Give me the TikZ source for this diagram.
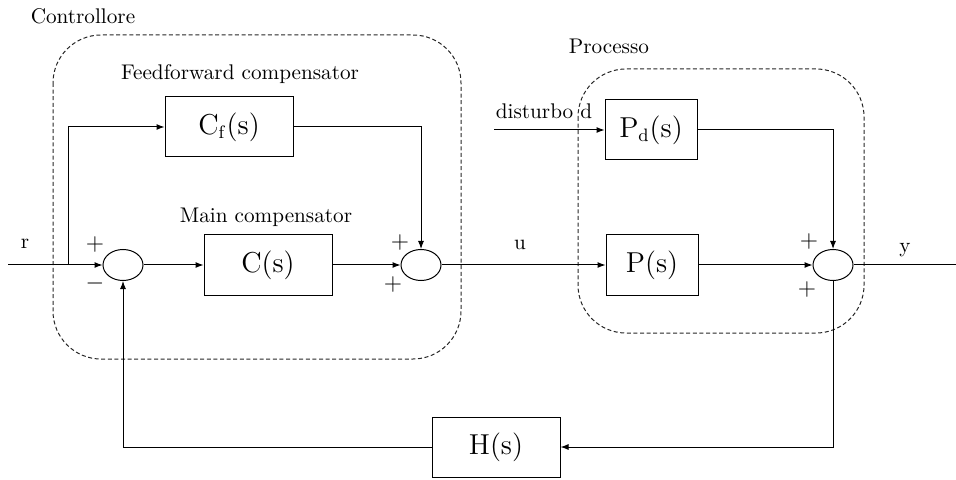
\documentclass[tikz,border=0pt]{standalone}
\usetikzlibrary{arrows.meta,shapes.geometric}
\newcommand{\Wide}{64pt}
\newcommand{\Narrow}{46pt}
\tikzset{Block/.style={
    inner sep=0pt,
    minimum width=\Wide,
    minimum height=30pt,
    draw=black,
    line width=0.5pt,
    font=\fontsize{13.5}{16}\selectfont,
    }
}

\begin{document}
\begin{tikzpicture}[x=0.5pt, y=-0.5pt, line width=0.5pt,
    >={Latex[length=4pt,width=3pt]},
    font=\fontsize{10.6}{12}\selectfont,
    Sum/.style={ellipse, draw=black, inner sep=0pt,
    minimum width=20pt, minimum height=15.5pt},
    Frame/.style={draw=black!85, dashed, dash pattern=on 2pt off 1.3pt,
    rounded corners=24pt},
    Sign/.style={inner sep=0pt, font=\fontsize{12}{12}\selectfont},
]
\useasboundingbox (0,0) rectangle (956,480);

% groups
\draw[Frame] (53,35) rectangle (461,359);
\draw[Frame] (578,69) rectangle (864,333);
\node (ctrlLabel) at (83,16) {Controllore};
\node (procLabel) at (609,46) {Processo};

% blocks
\node [Block] (Cf) at (229,127) {$\mathrm{C_f(s)}$};
\node [Block] (C) at (268,265) {$\mathrm{C(s)}$};
\node [Block, minimum width=\Narrow] (Pd) at (651,130) {$\mathrm{P_d(s)}$};
\node [Block, minimum width=\Narrow] (P) at (652,265) {$\mathrm{P(s)}$};
\node [Block] (H) at (496,447) {$\mathrm{H(s)}$};
\node [Sum] (sumA) at (123,265) {};
\node [Sum] (sumB) at (421,265) {};
\node [Sum] (sumC) at (833,265) {};

% texts
\node (ffLabel) at (240,74) {Feedforward compensator};
\node (mainLabel) at (266,217) {Main compensator};
\node (dLabel) at (544,111) {disturbo d};
\node (rLabel) at (25,244) {r};
\node (uLabel) at (520,245) {u};
\node (yLabel) at (905,250) {y};
\node [Sign] at (95,245) {$+$};
\node [Sign] at (95,283) {$-$};
\node [Sign] at (400,243) {$+$};
\node [Sign] at (393,285) {$+$};
\node [Sign] at (809,242) {$+$};
\node [Sign] at (807,289) {$+$};

% signals
\coordinate (rIn) at (8,265);
\coordinate (ff) at (68,265);
\coordinate (dIn) at (494,130);
\coordinate (yOut) at (956,265);
\draw[->] (rIn) -- (sumA.west);
\draw[->] (ff) |- (Cf.west);
\draw[->] (sumA) -- (C);
\draw[->] (C) -- (sumB);
\draw[->] (Cf.east) -| (sumB.north);
\draw[->] (sumB) -- (P);
\draw[->] (dIn) -- (Pd.west);
\draw[->] (Pd.east) -| (sumC.north);
\draw[->] (P) -- (sumC);
\draw (sumC.east) -- (yOut);
\draw[->] (sumC.south) |- (H.east);
\draw[->] (H.west) -| (sumA.south);
\end{tikzpicture}
\end{document}
